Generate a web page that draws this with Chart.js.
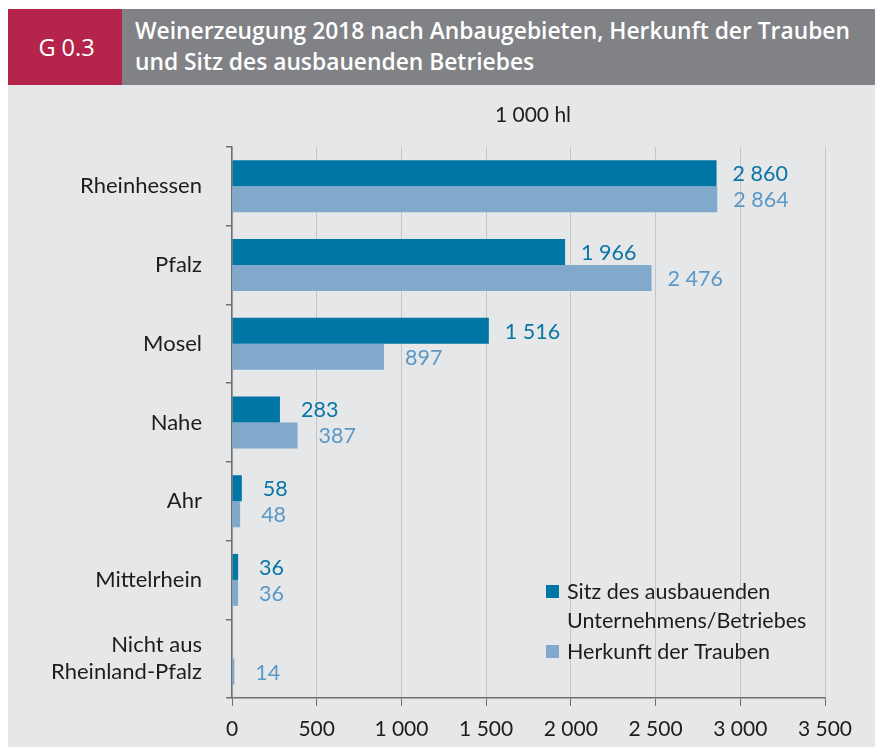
<!DOCTYPE html>
<html lang="de">
<head>
<meta charset="utf-8">
<title>Weinerzeugung 2018</title>
<script src="https://cdn.jsdelivr.net/npm/chart.js@4.4.1/dist/chart.umd.min.js"></script>
<style>
  html, body { margin: 0; padding: 0; background: #ffffff; }
  body { width: 875px; height: 747px; position: relative; overflow: hidden; }
  #badge { position: absolute; left: 8px; top: 9px; width: 114px; height: 76px; background: #b5254b;
    color: #fff; font: 400 23.5px "Open Sans", sans-serif; display: flex; align-items: center; justify-content: center; padding-left: 3px; box-sizing: border-box; }
  #title { position: absolute; left: 122px; top: 9px; width: 753px; height: 76px; background: #818286;
    color: #fff; font: 600 22.8px "Open Sans", sans-serif; line-height: 31px; box-sizing: border-box; padding: 6px 0 0 13px; white-space: nowrap; }
  #wrap { position: absolute; left: 8px; top: 85px; width: 867px; height: 662px; background: #e6e7e9; }
</style>
</head>
<body>
<div id="badge">G 0.3</div>
<div id="title">Weinerzeugung 2018 nach Anbaugebieten, Herkunft der Trauben<br>und Sitz des ausbauenden Betriebes</div>
<div id="wrap"><canvas id="c"></canvas></div>
<script>
// ---- data ----
const categories = ['Rheinhessen', 'Pfalz', 'Mosel', 'Nahe', 'Ahr', 'Mittelrhein', ['Nicht aus', 'Rheinland-Pfalz']];
const sitzValues = [2860, 1966, 1516, 283, 58, 36, null];
const herkunftValues = [2864, 2476, 897, 387, 48, 36, 14];
const sitzLegend = ['Sitz des ausbauenden', 'Unternehmens/Betriebes'];
const herkunftLegend = ['Herkunft der Trauben'];
const xTickValues = [0, 500, 1000, 1500, 2000, 2500, 3000, 3500];
const unitLabel = '1\u00a0000 hl';

// ---- styles ----
const FONT = 'Lato, "Open Sans", sans-serif';
const darkBar = '#0076a4';
const lightBar = '#81a9cb';
const darkText = '#0a76a6';
const lightText = '#5b98c6';
const textColor = '#1d1d1b';
const axisColor = '#707070';

function fmt(v) {
  return String(v).replace(/\B(?=(\d{3})+(?!\d))/g, '\u00a0');
}

const legendLines = [sitzLegend, herkunftLegend];
const labelColors = [darkText, lightText];

const overlayPlugin = {
  id: 'overlay',
  afterDatasetsDraw(chart) {
    const ctx = chart.ctx;
    ctx.save();
    ctx.font = '21.5px ' + FONT;
    ctx.textAlign = 'left';
    ctx.textBaseline = 'middle';
    chart.data.datasets.forEach((ds, i) => {
      const meta = chart.getDatasetMeta(i);
      meta.data.forEach((bar, j) => {
        const v = ds.data[j];
        if (v == null) return;
        ctx.fillStyle = labelColors[i];
        ctx.fillText(fmt(v), bar.x + (v < 1000 ? 21 : 16), bar.y + 1);
      });
    });
    ctx.restore();
  },
  afterDraw(chart) {
    const ctx = chart.ctx;
    const a = chart.chartArea;
    ctx.save();
    // unit label
    ctx.font = '21px ' + FONT;
    ctx.fillStyle = textColor;
    ctx.textAlign = 'center';
    ctx.textBaseline = 'middle';
    ctx.fillText(unitLabel, a.left + 301, a.top - 32);
    // legend
    ctx.font = '21.5px ' + FONT;
    ctx.textAlign = 'left';
    const lx = a.left + 314;
    let y = a.bottom - 107;
    chart.data.datasets.forEach((ds, i) => {
      ctx.fillStyle = ds.backgroundColor;
      ctx.fillRect(lx, y - 6, 13, 13);
      ctx.fillStyle = textColor;
      legendLines[i].forEach((line, k) => {
        ctx.fillText(line, lx + 21, y + 1 + k * 29);
      });
      y += legendLines[i].length * 29 + 2;
    });
    ctx.restore();
  }
};

new Chart(document.getElementById('c'), {
  type: 'bar',
  data: {
    labels: categories,
    datasets: [
      { label: sitzLegend.join(' '), data: sitzValues, backgroundColor: darkBar, borderWidth: 0 },
      { label: herkunftLegend.join(' '), data: herkunftValues, backgroundColor: lightBar, borderWidth: 0 }
    ]
  },
  options: {
    indexAxis: 'y',
    responsive: true,
    maintainAspectRatio: false,
    animation: false,
    categoryPercentage: 0.661,
    barPercentage: 1.0,
    layout: { padding: { top: 62, right: 50, left: 0, bottom: 0 } },
    plugins: {
      legend: { display: false },
      tooltip: { enabled: false }
    },
    scales: {
      x: {
        type: 'linear',
        min: 0,
        max: 3500,
        afterBuildTicks(scale) { scale.ticks = xTickValues.map(v => ({ value: v })); },
        afterFit(scale) { scale.height = 49; },
        ticks: {
          callback: v => fmt(v),
          font: { family: FONT, size: 21 },
          color: textColor,
          padding: 11,
          maxRotation: 0
        },
        grid: { color: '#c5c6c8', lineWidth: 1, tickColor: axisColor, tickLength: 8, drawTicks: true },
        border: { display: true, color: axisColor, width: 1.5 }
      },
      y: {
        type: 'category',
        afterFit(scale) { scale.width = 224; },
        ticks: {
          font: { family: FONT, size: 22, lineHeight: 1.23 },
          color: textColor,
          padding: 24
        },
        grid: { drawOnChartArea: false, offset: true, color: axisColor, tickLength: 6, lineWidth: 1.5 },
        border: { display: true, color: axisColor, width: 1.5 }
      }
    }
  },
  plugins: [overlayPlugin]
});
</script>
</body>
</html>
